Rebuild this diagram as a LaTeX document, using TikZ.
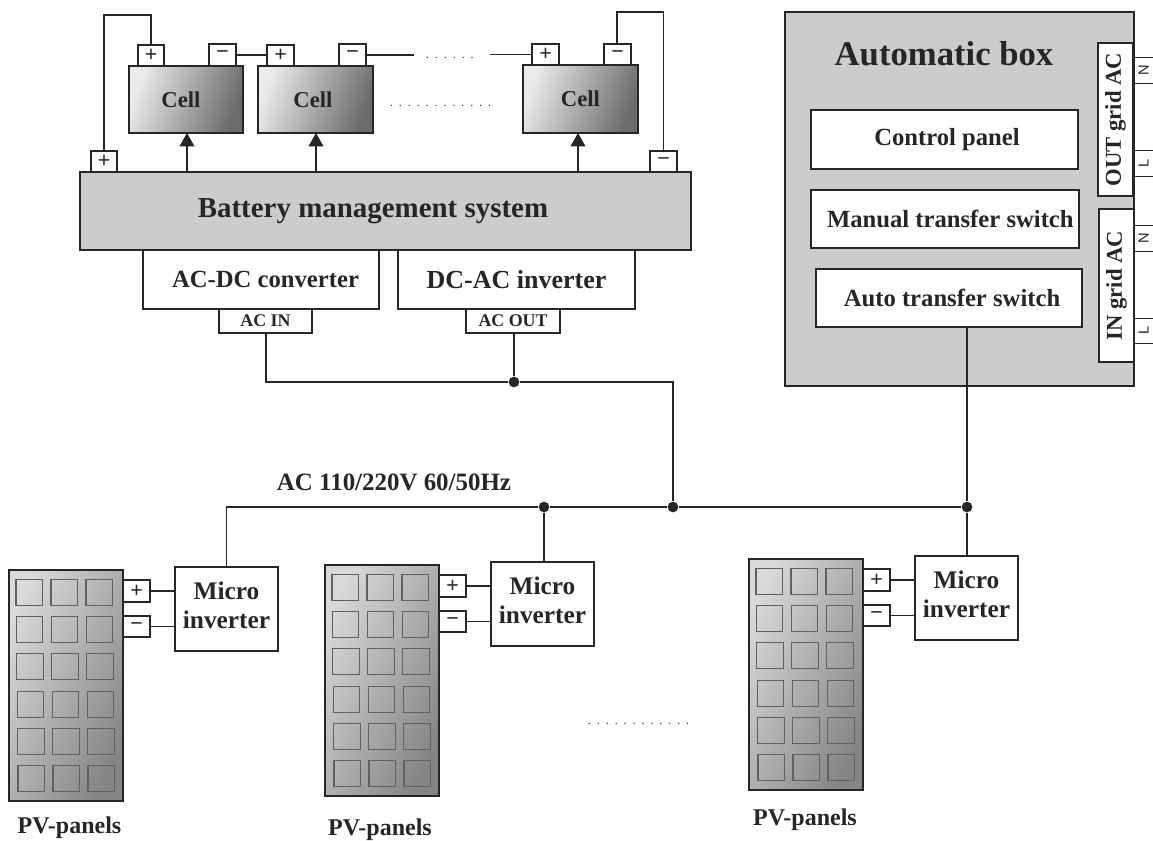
\documentclass[tikz,border=0pt]{standalone}
\usepackage{fontspec}
\usepackage{graphicx}
\setmainfont{Liberation Serif}[BoldFont={Liberation Serif Bold}]
\newfontfamily\termfont{Liberation Sans}
\usetikzlibrary{arrows.meta}
\definecolor{ink}{HTML}{262626}
\definecolor{panelgray}{HTML}{CCCCCC}
\newcommand{\tsz}[1]{\fontsize{#1pt}{#1pt}\selectfont\bfseries}
% \bx[style]{name}{x1}{y1}{x2}{y2}{text}
\newcommand{\bx}[7][]{\node[boxbase,#1,minimum width={((#5)-(#3))*0.75pt},minimum height={((#6)-(#4))*0.75pt}] (#2) at ({((#3)+(#5))/2},{((#4)+(#6))/2}) {#7};}
\newcommand{\dotrow}[2]{\hbox to #1pt{\leaders\hbox to #2pt{\hss.\hss}\hfill}}
\newcommand{\pvunit}[4]{%
 \begin{scope}[shift={(#2,#3)}]
  \bx[pvbody]{pv#1}{9}{570}{123}{801}{}
  \foreach \r in {0,...,5}{\foreach \c in {0,1,2}{
    \draw[pvcell] ({16+35*\c+0.4*\r},{579.5+37.2*\r}) rectangle ++(26.5,26);
  }}
  \bx[term]{tp#1}{123}{580}{150}{602}{+}
  \bx[term]{tm#1}{123}{616}{150}{637}{−}
  \bx[plain]{m#1}{175}{567}{278}{651}{\raisebox{-1.2pt}{\tsz{19}\begin{tabular}{@{}c@{}}Micro\\[3pt]inverter\end{tabular}}}
  \draw[wire] (tp#1.east) -- (tp#1.east -| m#1.west);
  \draw[wire] (tm#1.east) -- (tm#1.east -| m#1.west);
  \node[label text,font=\tsz{18}] (pl#1) at (#4) {PV-panels};
 \end{scope}}
\tikzset{
 boxbase/.style={draw=ink,line width=1.1pt,inner sep=0pt,outer sep=0pt,text=ink},
 plain/.style={fill=white},
 grayfill/.style={fill=panelgray},
 term/.style={fill=white,font=\termfont\fontsize{16pt}{16pt}\selectfont},
 smallterm/.style={fill=white,line width=.7pt,font=\termfont\fontsize{11pt}{11pt}\selectfont},
 cellbody/.style={left color=white!92!black,right color=black!58,shading angle=70},
 pvbody/.style={left color=white!85!black,right color=black!48,shading angle=65},
 pvcell/.style={draw=black!62,line width=.8pt},
 wire/.style={draw=ink,line width=1.1pt},
 junction/.style={circle,fill=ink,draw=none,minimum size=8pt,inner sep=0pt},
 label text/.style={text=ink,inner sep=0pt},
 dots/.style={text=black!85,inner sep=0pt,font=\fontsize{9pt}{9pt}\selectfont},
 tip/.style={-{Triangle[length=10pt,width=11pt]}},
}
\begin{document}
\begin{tikzpicture}[x=0.75pt,y=-0.75pt]
\useasboundingbox[fill=white] (0,0) rectangle (1153,840);
% battery bank
\bx[cellbody]{c1}{129}{66}{243}{133}{\kern-7.5pt\tsz{17}\raisebox{-2pt}{Cell}}
\bx[cellbody]{c2}{258}{66}{373}{133}{\kern-3.75pt\tsz{17}Cell}
\bx[cellbody]{c3}{523}{65}{638}{133}{\tsz{17}Cell}
\bx[term]{p1}{138}{45}{164}{66}{+}
\bx[term]{n1}{209}{44}{236}{66}{−}
\bx[term]{p2}{267}{45}{294}{66}{+}
\bx[term]{n2}{339}{44}{366}{66}{−}
\bx[term]{p3}{532}{44}{559}{65}{+}
\bx[term]{n3}{604}{44}{631}{65}{−}
\bx[grayfill]{bms}{80}{172}{691}{250}{\kern-18.75pt\tsz{21.7}\raisebox{1pt}{Battery management system}}
\bx[term]{bp}{91}{151}{117}{172}{+}
\bx[term]{bn}{650}{151}{677}{172}{−}
\coordinate (wl) at (104,15);
\coordinate (wr) at (663,12);
\coordinate (wn) at (617,44);
\coordinate (ne) at (414,55);
\coordinate (ps) at (490,54.5);
\draw[wire] (bp.north) |- (wl -| p1.north) -- (p1.north);
\draw[wire] (bn.north) |- (wn |- wr) -- (wn);
\draw[wire] (n1.east) -- (n1.east -| p2.west);
\draw[wire] (n2.east) -- (ne);
\draw[wire] (ps) -- (p3.west);
\node[dots] (d1) at (450,58) {\dotrow{40.5}{6.7}};
\node[dots] (d2) at (441,106) {\dotrow{81}{6.7}};
\coordinate (a1) at (187,133);
\coordinate (a2) at (316,133);
\coordinate (a3) at (578,133);
\draw[wire,tip] (bms.north -| a1) -- (a1);
\draw[wire,tip] (bms.north -| a2) -- (a2);
\draw[wire,tip] (bms.north -| a3) -- (a3);
% converters
\bx[plain]{acdc}{143}{250}{379}{309}{\kern6.75pt\tsz{18.5}AC-DC converter}
\bx[plain]{dcac}{398}{250}{635}{309}{\tsz{19.5}DC-AC inverter}
\bx[plain]{acin}{219}{309}{312}{333}{\tsz{13.4}AC IN}
\bx[plain]{acout}{466}{309}{560}{333}{\tsz{13.4}AC OUT}
% automatic box
\bx[grayfill]{auto}{785}{12}{1134}{386}{}
\node[label text,font=\tsz{26}] (autot) at (944,54) {Automatic box};
\bx[plain]{ctrl}{811}{110}{1078}{169}{\kern3.75pt\tsz{18.5}Control panel}
\bx[plain]{man}{811}{190}{1079}{248}{\kern8pt\tsz{18.5}Manual transfer switch}
\bx[plain]{ats}{816}{269}{1082}{327}{\kern4.5pt\tsz{18.5}Auto transfer switch}
\bx[plain]{outg}{1098}{43}{1133}{196}{\rotatebox{90}{\tsz{17}OUT grid AC}}
\bx[plain]{ing}{1099}{209}{1134}{362}{\rotatebox{90}{\tsz{17}IN grid AC}}
\bx[smallterm]{on}{1134}{57}{1153}{83}{\rotatebox{90}{N}}
\bx[smallterm]{ol}{1134}{150}{1153}{176}{\rotatebox{90}{L}}
\bx[smallterm]{in}{1134}{225}{1153}{251}{\rotatebox{90}{N}}
\bx[smallterm]{il}{1134}{318}{1153}{343}{\rotatebox{90}{L}}
% PV units
\pvunit{1}{0}{0}{69.5,828}
\pvunit{2}{316}{-5}{64,835}
\pvunit{3}{740}{-11}{65,831}
\node[dots] (d3) at (639,724) {\dotrow{81}{6.7}};
% bus
\node[junction] (j0) at (514,382) {};
\node[junction] (j1) at (544,507) {};
\node[junction] (j2) at (673,507) {};
\node[junction] (j3) at (967,507) {};
\coordinate (bend) at (266,382);
\coordinate (tr) at (673,382);
\draw[wire] (acin.south -| bend) -- (bend) -- (j0) -- (tr) -- (j2);
\draw[wire] (j0) -- (j0 |- acout.south);
\draw[wire] (m1.north) |- (j1) -- (j2) -- (j3);
\draw[wire] (j1) -- (j1 |- m2.north);
\draw[wire] (j3) -- (j3 |- m3.north);
\draw[wire] (j3) -- (j3 |- ats.south);
\node[label text,font=\tsz{18.7}] (aclab) at (394,482) {AC 110/220V 60/50Hz};
\end{tikzpicture}
\end{document}
